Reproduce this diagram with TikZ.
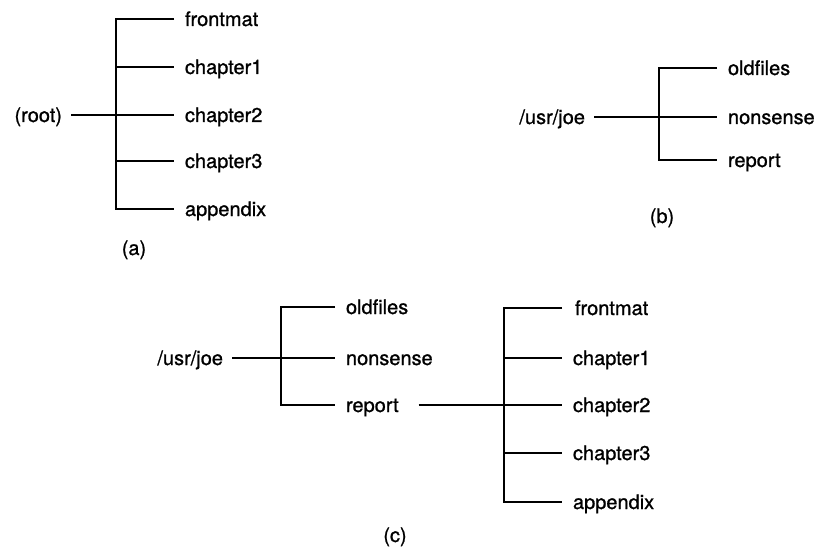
\documentclass[tikz,border=0pt]{standalone}
\usepackage{fontspec}
\setmainfont[FakeBold=1]{TeX Gyre Heros}
\begin{document}
\begin{tikzpicture}[x=1pt,y=-1pt,
  every node/.style={font=\fontsize{20}{24}\selectfont, outer sep=0pt, inner ysep=0pt},
  leaf/.style={inner xsep=11pt, anchor=base west},
  parent/.style={inner xsep=9pt, anchor=base east},
  caption/.style={inner sep=0pt, anchor=base},
  tree/.style={line width=1.8pt, line join=miter}]
\useasboundingbox (0,0) rectangle (819,548);

% ---------- (a) the root directory ----------
\coordinate (a0) at (116,19);
\coordinate (a1) at (116,67);
\coordinate (a2) at (116,115);
\coordinate (a3) at (116,161);
\coordinate (a4) at (116,209);
\node[leaf] (a-fm) at (174,26)  {frontmat};
\node[leaf] (a-c1) at (174,74)  {chapter1};
\node[leaf] (a-c2) at (174,122) {chapter2};
\node[leaf] (a-c3) at (174,168) {chapter3};
\node[leaf] (a-ap) at (174,216) {appendix};
\node[parent] (a-root) at (71,122) {(root)};
\draw[tree] (a0 -| a-fm.west) -- (a0) -- (a4) -- (a4 -| a-ap.west);
\draw[tree] (a1) -- (a1 -| a-c1.west);
\draw[tree] (a2) -- (a2 -| a-c2.west);
\draw[tree] (a3) -- (a3 -| a-c3.west);
\draw[tree] (a-root.east |- a2) -- (a2);
\node[caption] (cap-a) at (134,255) {(a)};

% ---------- (b) /usr/joe ----------
\coordinate (b0) at (659,68);
\coordinate (b1) at (659,117);
\coordinate (b2) at (659,160);
\node[leaf] (b-of) at (717,75)  {oldfiles};
\node[leaf] (b-ns) at (717,124) {nonsense};
\node[leaf] (b-rp) at (717,167) {report};
\node[parent] (b-joe) at (594,124) {/usr/joe};
\draw[tree] (b0 -| b-of.west) -- (b0) -- (b2) -- (b2 -| b-rp.west);
\draw[tree] (b-joe.east |- b1) -- (b1) -- (b1 -| b-ns.west);
\node[caption] (cap-b) at (662,223) {(b)};

% ---------- (c) report as a directory ----------
\coordinate (c0) at (281,307);
\coordinate (c1) at (281,358);
\coordinate (c2) at (281,405);
\node[leaf] (c-of) at (335,314) {oldfiles};
\node[leaf] (c-ns) at (335,365) {nonsense};
\node[leaf] (c-rp) at (335,412) {report};
\node[parent] (c-joe) at (232,365) {/usr/joe};
\draw[tree] (c0 -| c-of.west) -- (c0) -- (c2) -- (c2 -| c-rp.west);
\draw[tree] (c-joe.east |- c1) -- (c1) -- (c1 -| c-ns.west);

\coordinate (d0) at (504,308);
\coordinate (d1) at (504,358);
\coordinate (d2) at (504,405);
\coordinate (d3) at (504,453);
\coordinate (d4) at (504,502);
\node[leaf] (d-fm) at (564,315) {frontmat};
\node[leaf] (d-c1) at (562,365) {chapter1};
\node[leaf] (d-c2) at (562,412) {chapter2};
\node[leaf] (d-c3) at (562,460) {chapter3};
\node[leaf] (d-ap) at (562,509) {appendix};
\draw[tree] (d0 -| d-c1.west) -- (d0) -- (d4) -- (d4 -| d-ap.west);
\draw[tree] (d1) -- (d1 -| d-c1.west);
\draw[tree] (d3) -- (d3 -| d-c3.west);
\draw[tree] ([xshift=9pt]c-rp.east |- d2) -- (d2) -- (d2 -| d-c2.west);
\node[caption] (cap-c) at (395,542) {(c)};
\end{tikzpicture}
\end{document}
